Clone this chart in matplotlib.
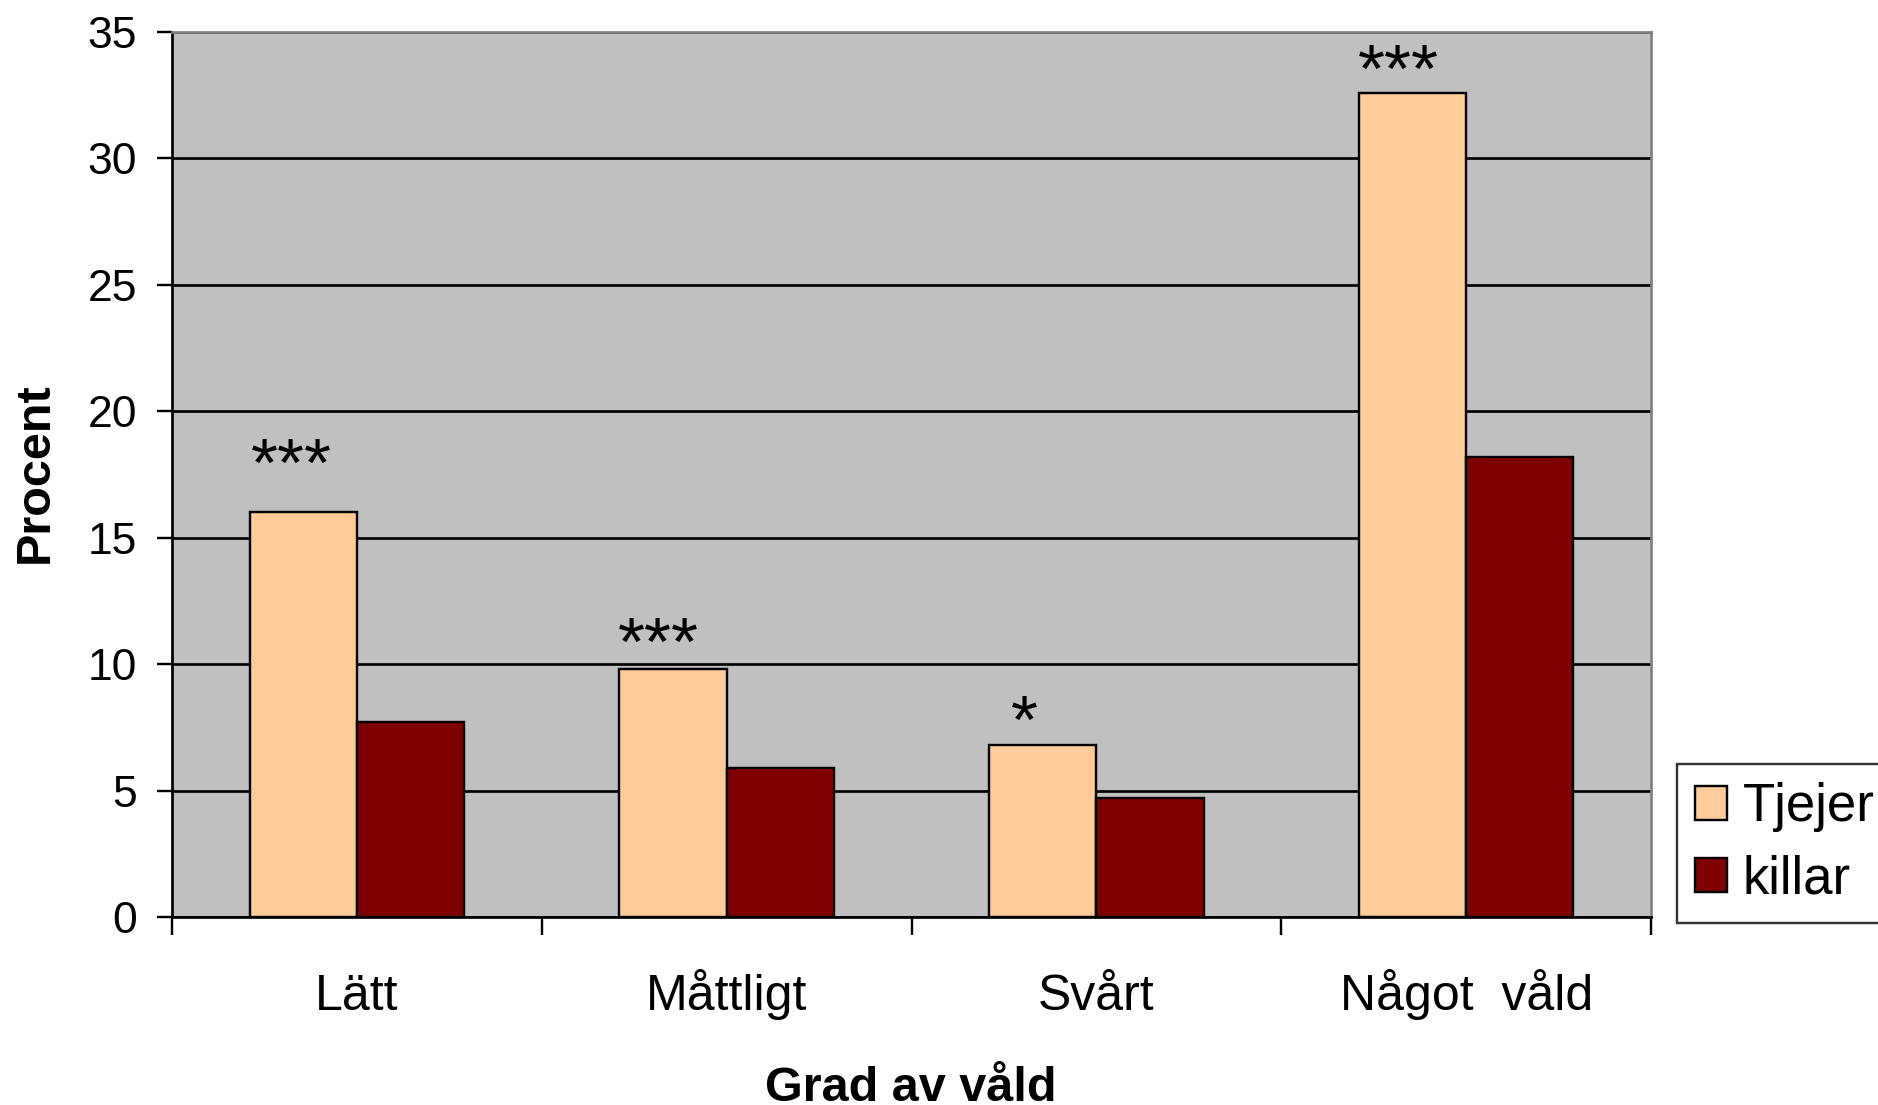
import matplotlib
matplotlib.use("Agg")
import matplotlib.pyplot as plt
from matplotlib.patches import Patch
import numpy as np

categories = ["Lätt", "Måttligt", "Svårt", "Något  våld"]
series_names = ["Tjejer", "killar"]
tjejer = [16.0, 9.8, 6.8, 32.6]
killar = [7.7, 5.9, 4.7, 18.2]
signif = ["***", "***", "*", "***"]
y_ticks = [0, 5, 10, 15, 20, 25, 30, 35]

# style
c_tjejer = "#FFCC99"
c_killar = "#800000"
bg = "#C0C0C0"
font = "Liberation Sans"
plt.rcParams["font.family"] = [font, "DejaVu Sans"]

W, H, DPI = 1878, 1105, 100
fig = plt.figure(figsize=(W / DPI, H / DPI), dpi=DPI)
px = lambda v: v * 72.0 / DPI  # pixels -> points

L, R, T, B = 172, 1651, 32, 917
ax = fig.add_axes([L / W, 1 - B / H, (R - L) / W, (B - T) / H])
ax.set_facecolor(bg)

x = np.arange(len(categories))
bw = 0.29
ax.bar(x - bw / 2, tjejer, bw, color=c_tjejer, edgecolor="black", linewidth=px(2.4), zorder=3)
ax.bar(x + bw / 2, killar, bw, color=c_killar, edgecolor="black", linewidth=px(2.4), zorder=3)

ax.set_xlim(-0.5, len(categories) - 0.5)
ax.set_ylim(0, 35)
ax.set_yticks(y_ticks)
ax.set_yticklabels([str(v) for v in y_ticks], fontsize=32)
ax.yaxis.grid(True, color="black", linewidth=px(2.7), zorder=0)
ax.set_axisbelow(True)

ax.set_xticks(np.arange(len(categories) + 1) - 0.5)
ax.set_xticklabels([])
ax.set_xticks(x, minor=True)
ax.set_xticklabels(categories, minor=True, fontsize=36)
for lab in ax.get_xticklabels(minor=True):
    lab.set_verticalalignment("baseline")
ax.tick_params(axis="x", which="major", length=px(18), width=px(2.4), direction="out")
ax.tick_params(axis="x", which="minor", length=0, pad=px(93))
ax.tick_params(axis="y", which="major", length=px(15), width=px(2.4), direction="out", pad=px(20))

for s in ["left", "bottom"]:
    ax.spines[s].set_color("black")
    ax.spines[s].set_linewidth(px(2.7))
for s in ["top", "right"]:
    ax.spines[s].set_color("#808080")
    ax.spines[s].set_linewidth(px(2.7))

# significance marks (offsets in pixels: dx, dy of glyph baseline from bar top)
sig_dx = [-12, -15, -18, -14]
sig_dy = [27, 4, 2, 1]
for i, (v, s) in enumerate(zip(tjejer, signif)):
    ax.annotate(s, xy=(x[i] - bw / 2, v), xytext=(px(sig_dx[i]), px(sig_dy[i])),
                textcoords="offset points", ha="center", va="baseline",
                fontsize=50, zorder=5)

fig.text(911 / W, 1 - 1101 / H, "Grad av våld", ha="center", va="baseline",
         fontsize=35, fontweight="bold")
fig.text(35 / W, 1 - 473 / H, "Procent", ha="center", va="center", rotation=90,
         fontsize=35, fontweight="bold")

handles = [Patch(facecolor=c_tjejer, edgecolor="black", linewidth=px(2.4)),
           Patch(facecolor=c_killar, edgecolor="black", linewidth=px(2.4))]
leg = fig.legend(handles, series_names, loc="upper left",
                 bbox_to_anchor=(1677 / W, 1 - 764 / H), bbox_transform=fig.transFigure,
                 fontsize=38, frameon=True, fancybox=False, shadow=False,
                 handlelength=0.6, handleheight=0.6, handletextpad=0.3,
                 borderpad=0.35, labelspacing=0.42, borderaxespad=0)
leg.get_frame().set_edgecolor("black")
leg.get_frame().set_linewidth(px(2.4))

fig.savefig("out.png", dpi=DPI)
